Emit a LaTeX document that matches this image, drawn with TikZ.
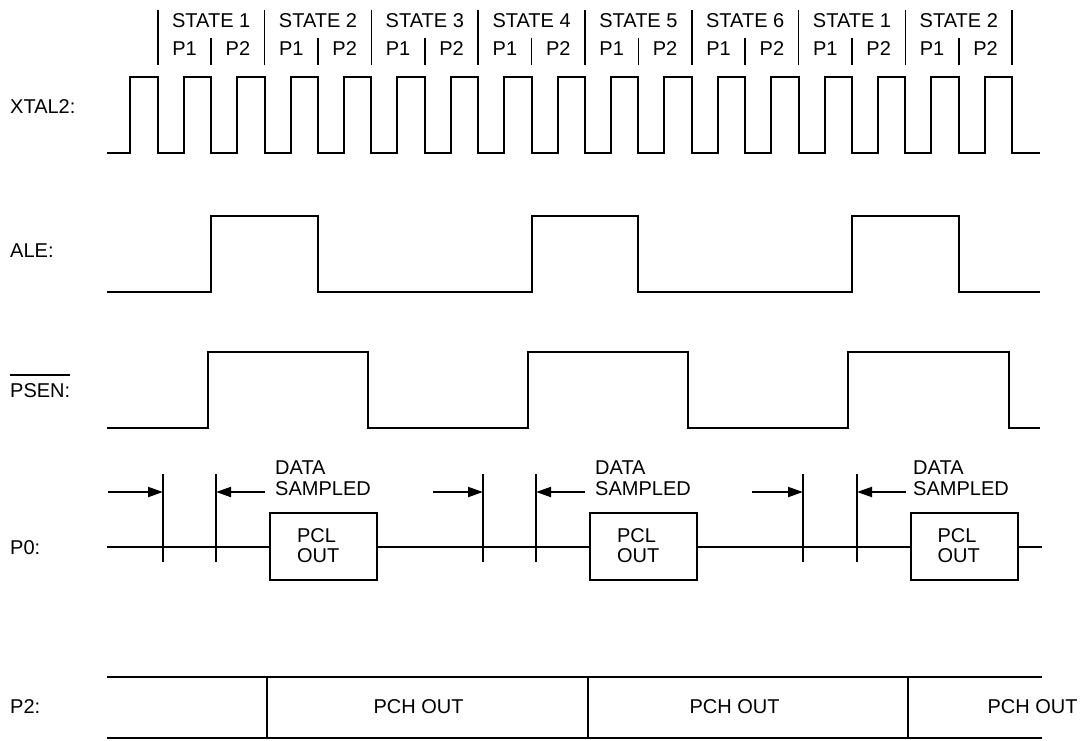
\documentclass[tikz,border=0pt]{standalone}
\usepackage{fontspec}
\setmainfont{Liberation Sans}
\usetikzlibrary{arrows.meta}
\begin{document}
\begin{tikzpicture}[x=1pt,y=-1pt,
  wave/.style={line width=2pt, line join=miter},
  divider/.style={line width=1.7pt},
  lbl/.style={anchor=base west, inner sep=0pt, font=\fontsize{20}{21}\selectfont},
  txt/.style={anchor=base, inner sep=0pt, font=\fontsize{20}{21}\selectfont},
  arr/.style={line width=2pt, -{Triangle[length=15pt,width=10pt]}},
  pcl/.style={draw, line width=2pt, minimum height=67pt, text width=53pt,
    inner xsep=27pt, inner ysep=0pt, align=left, font=\fontsize{20}{20}\selectfont},
  ds/.style={anchor=north west, inner sep=0pt, align=left, font=\fontsize{20}{21}\selectfont},
]
\useasboundingbox (0,0) rectangle (1086,740);

% signal labels
\node[lbl] (lxtal) at (10,113) {XTAL2:};
\node[lbl] (lale) at (10,257) {ALE:};
\node[lbl] (lpsen) at (10,397) {\rlap{\rule[21pt]{60pt}{1.6pt}}PSEN:};
\node[lbl] (lp0) at (10,554) {P0:};
\node[lbl] (lp2) at (10,713) {P2:};

% state / phase headings
\foreach \s [count=\i from 0] in {1,2,3,4,5,6,1,2} {
  \node[txt] (st\i) at ({157.8+53.4*(2*\i+1)},27) {STATE \s};
  \node[txt] (pa\i) at ({157.8+53.4*(2*\i+0.5)},55) {P1};
  \node[txt] (pb\i) at ({157.8+53.4*(2*\i+1.5)},55) {P2};
}
\foreach \k in {0,2,...,16} \draw[divider] ({157.8+53.4*\k},10) -- ({157.8+53.4*\k},65);
\foreach \k in {1,3,...,15} \draw[divider] ({157.8+53.4*\k},38) -- ({157.8+53.4*\k},65);

% XTAL2
\draw[wave] (107,153) \foreach \k in {0,...,16} {
  -- ({130.3+53.4*\k},153) -- ({130.3+53.4*\k},77)
  -- ({157.8+53.4*\k},77) -- ({157.8+53.4*\k},153) } -- (1040,153);

% ALE
\draw[wave] (107,292) -- (211.2,292) -- (211.2,216) -- (318,216) -- (318,292)
  -- (531.6,292) -- (531.6,216) -- (638.4,216) -- (638.4,292)
  -- (852,292) -- (852,216) -- (958.8,216) -- (958.8,292) -- (1040,292);

% PSEN
\draw[wave] (107,428) -- (208,428) -- (208,352) -- (368,352) -- (368,428)
  -- (528,428) -- (528,352) -- (688,352) -- (688,428)
  -- (848,428) -- (848,352) -- (1009,352) -- (1009,428) -- (1040,428);

% P0
\coordinate (p0s) at (107,547);
\coordinate (p0e) at (1042,547);
\node[pcl] (pcl1) at (323.5,546) {PCL\\OUT};
\node[pcl] (pcl2) at (643.5,546) {PCL\\OUT};
\node[pcl] (pcl3) at (964,546) {PCL\\OUT};
\draw[wave] (p0s) -- (pcl1.west |- p0s) (pcl1.east |- p0s) -- (pcl2.west |- p0s)
  (pcl2.east |- p0s) -- (pcl3.west |- p0s) (pcl3.east |- p0s) -- (p0e);

\foreach \x [count=\i] in {163,216,483,536,803,857} {
  \coordinate (tt\i) at (\x,474);
  \coordinate (tb\i) at (\x,562);
  \coordinate (ah\i) at (\x,492);
  \draw[wave] (tt\i) -- (tb\i);
}
\coordinate (ra1) at (108,492);
\coordinate (ra2) at (433,492);
\coordinate (ra3) at (752,492);
\coordinate (la1) at (265,492);
\coordinate (la2) at (585,492);
\coordinate (la3) at (906,492);
\draw[arr] (ra1) -- (ah1);
\draw[arr] (la1) -- (ah2);
\draw[arr] (ra2) -- (ah3);
\draw[arr] (la2) -- (ah4);
\draw[arr] (ra3) -- (ah5);
\draw[arr] (la3) -- (ah6);
\node[ds] (ds1) at (275,460.7) {DATA\\SAMPLED};
\node[ds] (ds2) at (595,460.7) {DATA\\SAMPLED};
\node[ds] (ds3) at (913,460.7) {DATA\\SAMPLED};

% P2
\coordinate (bt1) at (107,677);
\coordinate (bt2) at (1042,677);
\coordinate (bb1) at (107,738);
\coordinate (bb2) at (1042,738);
\draw[wave] (bt1) -- (bt2);
\draw[wave] (bb1) -- (bb2);
\foreach \x [count=\i] in {267,588,908} {
  \coordinate (vt\i) at (\x,677);
  \coordinate (vb\i) at (\x,738);
  \draw[wave] (vt\i) -- (vb\i);
}
\node[txt] (pch1) at (418.5,713) {PCH OUT};
\node[txt] (pch2) at (734.5,713) {PCH OUT};
\node[txt] (pch3) at (1032.5,713) {PCH OUT};
\end{tikzpicture}
\end{document}
